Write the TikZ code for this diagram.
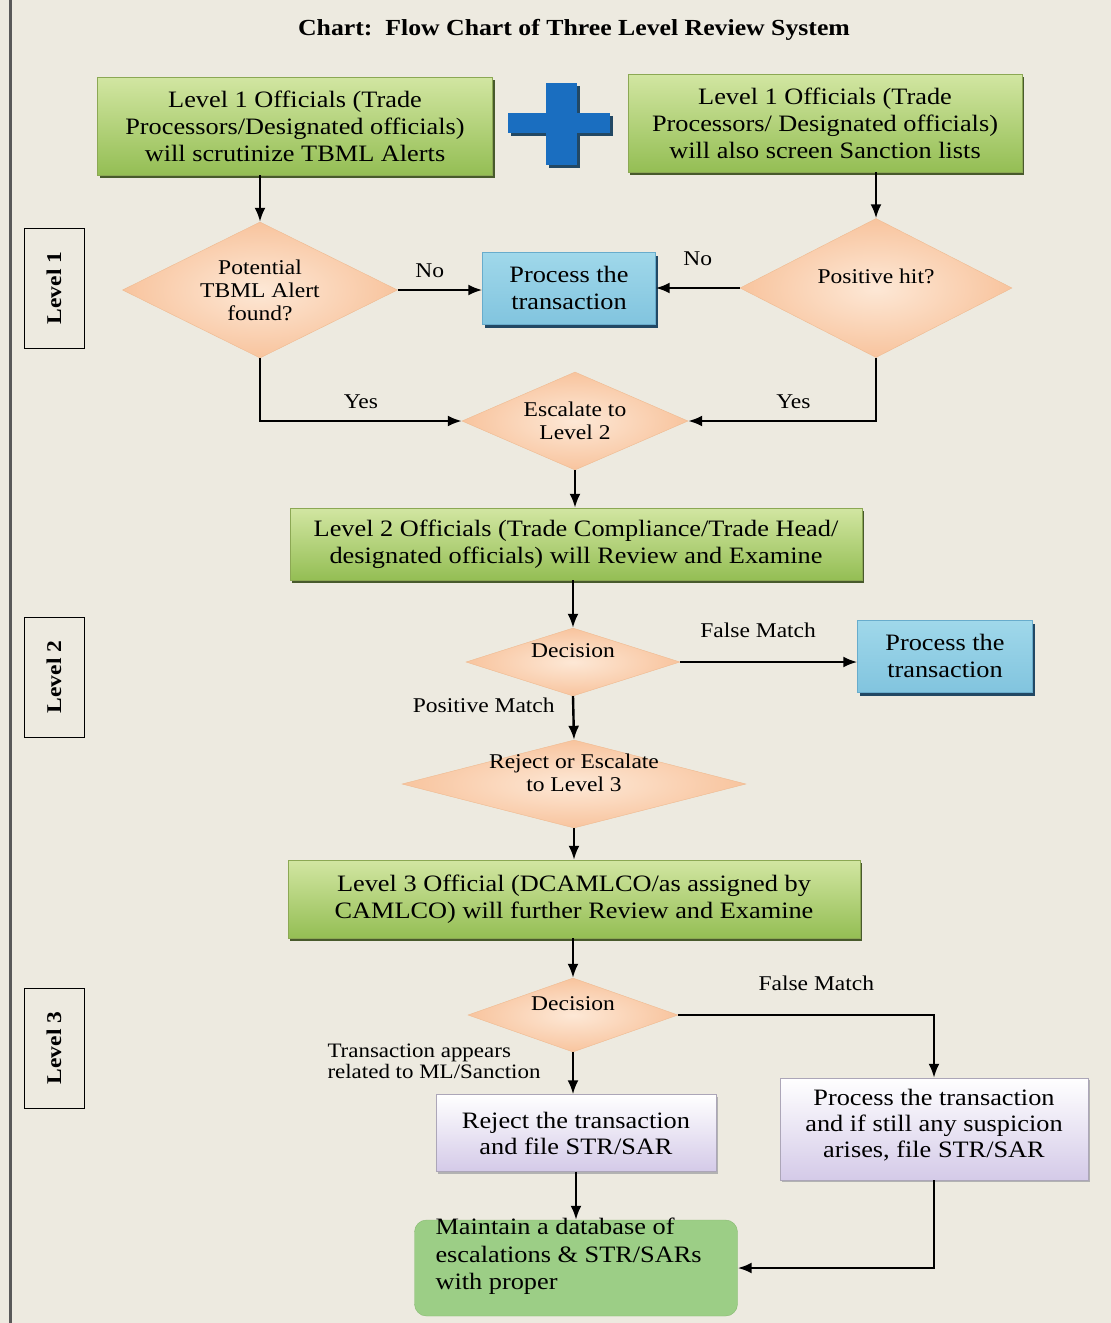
\documentclass[tikz,border=0pt]{standalone}
\usepackage{fontspec}
\setmainfont{Liberation Serif}[FakeStretch=1.12]
\usetikzlibrary{arrows.meta,positioning,shapes.geometric,shadows}
\definecolor{bgbeige}{RGB}{237,234,224}
\definecolor{grnA}{RGB}{210,230,162}
\definecolor{grnB}{RGB}{148,190,84}
\definecolor{grnedge}{RGB}{140,168,84}
\definecolor{grnshade}{RGB}{72,90,44}
\definecolor{peachA}{RGB}{253,232,214}
\definecolor{peachB}{RGB}{248,196,158}
\definecolor{procA}{RGB}{160,216,234}
\definecolor{procB}{RGB}{58,150,196}
\definecolor{procedge}{RGB}{104,172,204}
\definecolor{procshade}{RGB}{34,72,100}
\definecolor{lilac}{RGB}{212,202,232}
\definecolor{lilacedge}{RGB}{172,166,184}
\definecolor{plusblue}{RGB}{26,110,192}
\definecolor{dbgreen}{RGB}{156,206,134}
\definecolor{dbedge}{RGB}{134,186,112}

\begin{document}
\begin{tikzpicture}[x=1pt,y=-1pt,>=Latex,
 tbox/.style={draw=grnedge,top color=grnA,bottom color=grnB,align=center,inner sep=0pt,
  font=\fontsize{23.5}{27}\selectfont,drop shadow={shadow xshift=2pt,shadow yshift=-3pt,fill=grnshade,opacity=1}},
 pbox/.style={draw=procedge,top color=procA,middle color=procB,bottom color=procA!70!procB,align=center,inner sep=0pt,
  minimum width=173,minimum height=72,font=\fontsize{23.5}{27}\selectfont,
  drop shadow={shadow xshift=2pt,shadow yshift=-4pt,fill=procshade,opacity=1}},
 lbox/.style={draw=lilacedge,top color=white,bottom color=lilac,align=center,inner sep=0pt,
  font=\fontsize{23.5}{26}\selectfont,drop shadow={shadow xshift=2pt,shadow yshift=-2pt,fill=gray!60,opacity=1}},
 dm/.style={diamond,inner color=peachA,outer color=peachB,draw=peachB!85!brown,inner sep=0pt,align=center,
  font=\fontsize{21}{23}\selectfont},
 tag/.style={draw,line width=1pt,rotate=90,minimum width=120,minimum height=60,font=\bfseries\fontsize{21}{23}\selectfont},
 lbl/.style={font=\fontsize{21}{23}\selectfont},
 a/.style={->,line width=2.4pt,arrows={-Latex[length=14pt,width=11pt]}}]
\fill[bgbeige] (0,0) rectangle (1111,1323);
\useasboundingbox (0,0) rectangle (1111,1323);
\draw[line width=3pt,black!65] (10,0) -- (10,1323);
\node[font=\bfseries\fontsize{23}{25}\selectfont] (title) at (574,30) {Chart:\ \ Flow Chart of Three Level Review System};
% level 1
\node[tbox,minimum width=395,minimum height=98] (lvA) at (295,126) {Level 1 Officials (Trade\\Processors/Designated officials)\\will scrutinize TBML Alerts};
\node[tbox,minimum width=394,minimum height=98] (lvB) at (825,123) {Level 1 Officials (Trade\\Processors/ Designated officials)\\will also screen Sanction lists};
\fill[procshade] (511,116) rectangle (613,136); \fill[procshade] (549,86) rectangle (580,168);
\fill[plusblue] (508,113) rectangle (610,133); \fill[plusblue] (546,83) rectangle (577,165);
\node[dm,shape aspect=2.02,minimum width=275,minimum height=136] (alert) at (260,290) {Potential\\TBML Alert\\found?};
\node[dm,shape aspect=1.96,minimum width=272,minimum height=139,text depth=24pt] (hit) at (876,288) {Positive hit?};
\node[pbox] (okA) at (569,288) {Process the\\transaction};
\node[dm,shape aspect=2.3,minimum width=226,minimum height=98] (esc) at (575,421) {Escalate to\\Level 2};
\draw[a] (alert.north |- lvA.south) -- (alert.north);
\draw[a] (hit.north |- lvB.south) -- (hit.north);
\draw[a] (alert.east) -- (alert.east -| okA.west) node[lbl,pos=0.38,above=8pt] {No};
\draw[a] (hit.west) -- (hit.west -| okA.east) node[lbl,midway,above=18pt] {No};
\draw[a] (alert.south) |- (esc.west) node[lbl,pos=0.75,above=8pt] {Yes};
\draw[a] (hit.south) |- (esc.east) node[lbl,pos=0.72,above=8pt] {Yes};
% level 2
\node[tbox,minimum width=572,minimum height=72] (lvC) at (576,544) {Level 2 Officials (Trade Compliance/Trade Head/\\designated officials) will Review and Examine};
\node[dm,shape aspect=3.15,minimum width=214,minimum height=68,text depth=22pt] (decA) at (573,662) {Decision};
\node[pbox,minimum width=175] (okB) at (945,656) {Process the\\transaction};
\node[dm,minimum width=344,minimum height=88,
  label={[lbl,align=center,yshift=11pt]center:Reject or Escalate\\to Level 3}] (rejA) at (574,784) {};
\draw[a] (esc.south) -- (esc.south |- lvC.north);
\draw[a] (decA.north |- lvC.south) -- (decA.north);
\draw[a] (decA.east) -- (decA.east -| okB.west) node[lbl,pos=0.44,above=20pt] {False Match};
\draw[a] (decA.south) -- (rejA.north) node[lbl,pos=0.2,left=14pt] {Positive Match};
% level 3
\node[tbox,minimum width=572,minimum height=78] (lvD) at (574,899) {Level 3 Official (DCAMLCO/as assigned by\\CAMLCO) will further Review and Examine};
\node[dm,shape aspect=2.85,minimum width=210,minimum height=74,text depth=22pt] (decB) at (573,1015) {Decision};
\node[lbox,minimum width=280,minimum height=77] (rejB) at (576,1133) {Reject the transaction\\and file STR/SAR};
\node[lbox,minimum width=308,minimum height=102,text depth=12pt] (keep) at (934,1129) {Process the transaction\\and if still any suspicion\\arises, file STR/SAR};
\node[draw=dbedge,fill=dbgreen,rounded corners=12pt,minimum width=323,minimum height=96] (db) at (576,1268) {};
\node[anchor=north west,align=left,inner sep=0pt,font=\fontsize{23.5}{27.5}\selectfont] (dbtext) at ([xshift=21pt,yshift=2pt]db.north west) {Maintain a database of\\escalations \& STR/SARs\\with proper};
\draw[a] (rejA.south) -- (rejA.south |- lvD.north);
\draw[a] (decB.north |- lvD.south) -- (decB.north);
\draw[a] (decB.east) -| (keep.north) node[lbl,pos=0.27,above=20pt] {False Match};
\draw[a] (decB.south) -- (decB.south |- rejB.north) node[lbl,pos=0.22,left=28pt,align=left,font=\fontsize{20.5}{21}\selectfont] {Transaction appears\\related to ML/Sanction};
\draw[a] (rejB.south) -- (rejB.south |- db.north);
\draw[a] (keep.south) |- (db.east);
% side tags
\node[tag] (tagA) at (54,288) {Level 1};
\node[tag] (tagB) at (54,677) {Level 2};
\node[tag] (tagC) at (54,1048) {Level 3};
\end{tikzpicture}
\end{document}
